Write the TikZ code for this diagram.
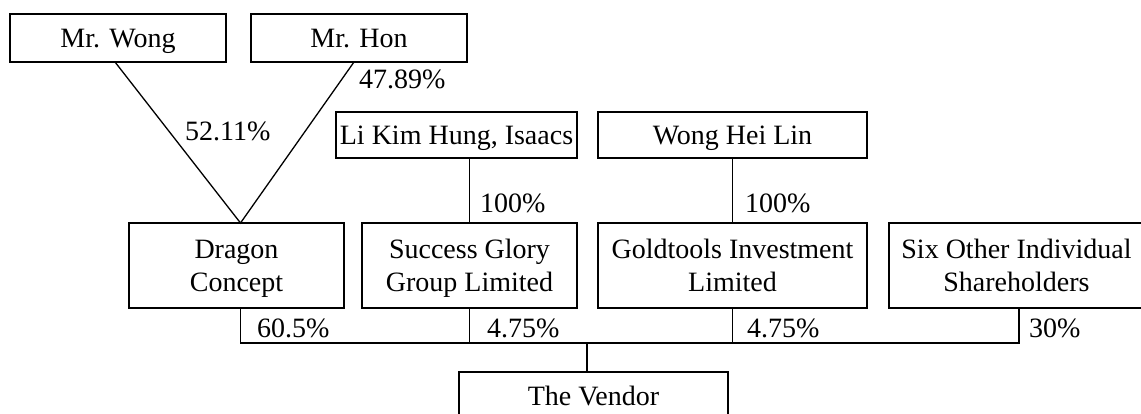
\documentclass[tikz,border=0pt]{standalone}
\usepackage{fontspec}
\setmainfont{Liberation Serif}
\newcommand{\topstrut}{\rule{0pt}{26.5pt}}
\newcommand{\botstrut}{\rule[-8pt]{0pt}{8pt}}
\begin{document}
\begin{tikzpicture}[x=1pt,y=-1pt,
  every node/.style={font=\fontsize{28}{33.5}\selectfont},
  box/.style={draw, line width=1.5pt, inner sep=0pt, align=center},
  onebox/.style={box, text height=18.5pt, text depth=0pt},
  pct/.style={anchor=base west, inner sep=0pt},
  link/.style={line width=1.3pt}]
\useasboundingbox (0,0) rectangle (1141,414);
\clip (0,0) rectangle (1141,414);
% top owners
\node[onebox, minimum width=216pt, minimum height=48pt] (wong) at (118,38) {Mr. Wong};
\node[onebox, minimum width=216pt, minimum height=48pt] (hon) at (359,38) {Mr. Hon};
\node[onebox, minimum width=241pt, minimum height=46pt] (li) at (456.5,135) {Li Kim Hung, Isaacs};
\node[onebox, minimum width=269pt, minimum height=46pt] (whl) at (732.5,135) {Wong Hei Lin};
% middle row
\node[box, minimum width=215pt, minimum height=85pt] (dragon) at (236.5,265.5) {\topstrut Dragon\\Concept\botstrut};
\node[box, minimum width=215pt, minimum height=85pt] (success) at (469.5,265.5) {\topstrut Success Glory\\Group Limited\botstrut};
\node[box, minimum width=269pt, minimum height=85pt] (gold) at (732.5,265.5) {\topstrut Goldtools Investment\\Limited\botstrut};
\node[box, minimum width=255pt, minimum height=85pt] (six) at (1016.5,265.5) {\topstrut Six Other Individual\\Shareholders\botstrut};
% vendor
\node[onebox, minimum width=269pt, minimum height=48pt] (vendor) at (593.5,396) {The Vendor};
% connection points
\coordinate (apex) at (240.5,223);
\coordinate (wongb) at (115,62);
\coordinate (honb) at (354,62);
\coordinate (bus) at (587,343);
\draw[link] (wongb) -- (apex) -- (honb);
\draw[link] (success.north) -- (success.north |- li.south);
\draw[link] (gold.north) -- (gold.north |- whl.south);
\coordinate (d1) at (240.5,308);
\coordinate (s1) at (1019,308);
\draw[link] (d1) -- (d1 |- bus) -- (s1 |- bus) -- (s1);
\draw[link] (success.south) -- (success.south |- bus);
\draw[link] (gold.south) -- (gold.south |- bus);
\draw[link] (bus) -- (bus |- vendor.north);
% percentages
\node[pct] (p1) at (185,141) {52.11\%};
\node[pct] (p2) at (359,89) {47.89\%};
\node[pct] (p3) at (480,213) {100\%};
\node[pct] (p4) at (745,213) {100\%};
\node[pct] (p5) at (257,337) {60.5\%};
\node[pct] (p6) at (487,337) {4.75\%};
\node[pct] (p7) at (747,337) {4.75\%};
\node[pct] (p8) at (1029,337) {30\%};
\end{tikzpicture}
\end{document}
